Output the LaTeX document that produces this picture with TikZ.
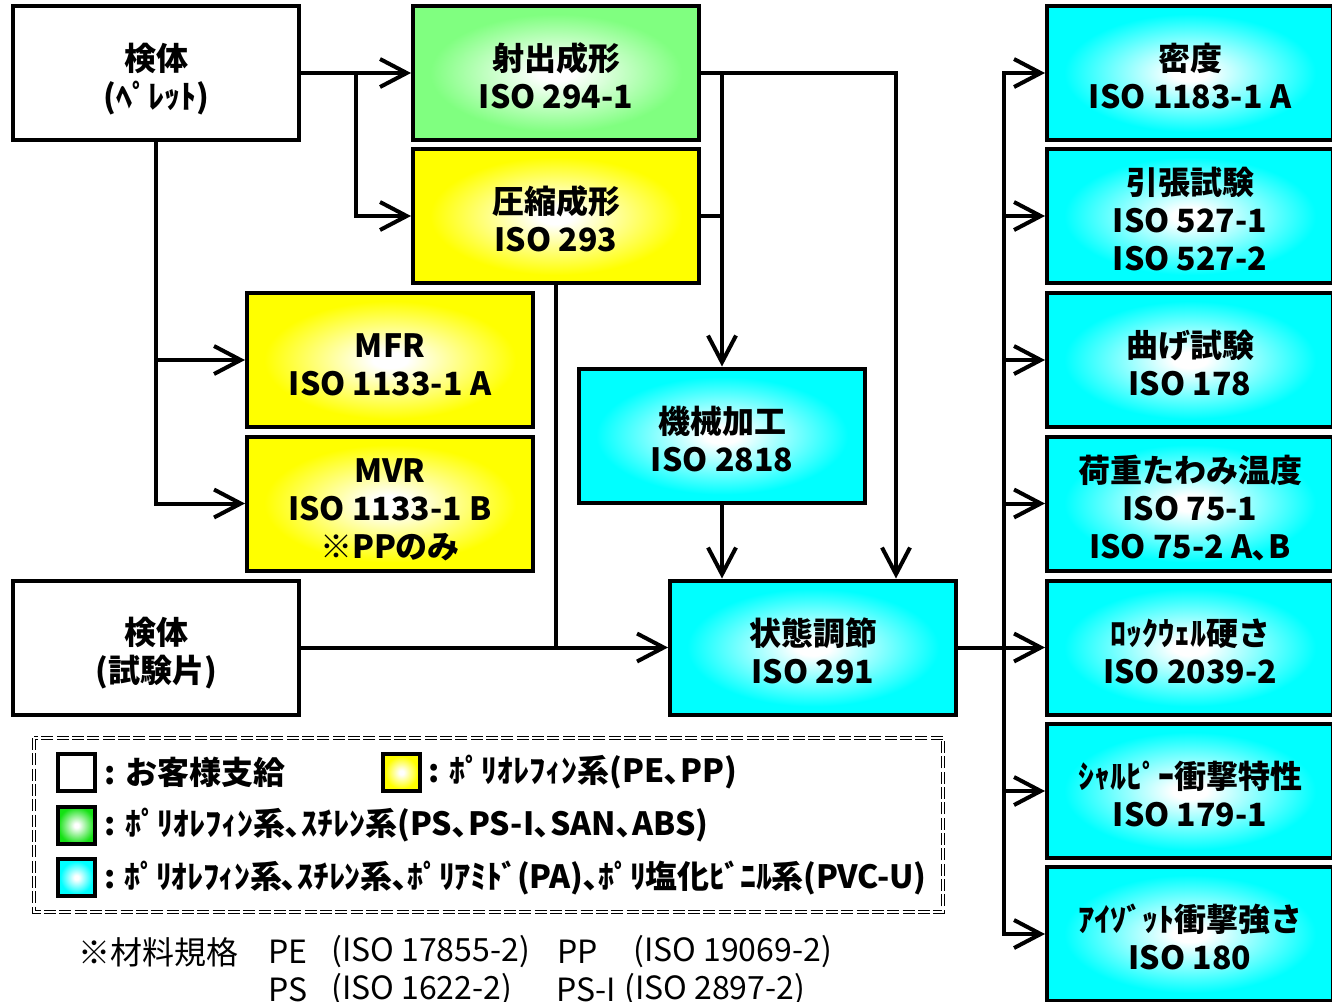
\documentclass[tikz,border=0pt]{standalone}
\usepackage{fontspec}
\newfontfamily\jp{Noto Sans CJK JP}
\usetikzlibrary{arrows.meta,calc}
\definecolor{gr}{RGB}{128,255,128}
\definecolor{lgr}{RGB}{20,225,20}
\definecolor{ye}{RGB}{255,255,0}
\definecolor{cy}{RGB}{0,255,255}
\pgfdeclareradialshading{glowG}{\pgfpoint{0bp}{0bp}}{color(0bp)=(white); color(3bp)=(white); color(22bp)=(gr); color(50bp)=(gr)}
\pgfdeclareradialshading{glowY}{\pgfpoint{0bp}{0bp}}{color(0bp)=(white); color(3bp)=(white); color(22bp)=(ye); color(50bp)=(ye)}
\pgfdeclareradialshading{glowC}{\pgfpoint{0bp}{0bp}}{color(0bp)=(white); color(3bp)=(white); color(22bp)=(cy); color(50bp)=(cy)}
\pgfdeclareradialshading{glowL}{\pgfpoint{0bp}{0bp}}{color(0bp)=(white); color(3bp)=(white); color(25bp)=(lgr); color(50bp)=(lgr)}
\newcommand\boxfont{\jp\bfseries\fontsize{24}{28.5}\selectfont}
\newcommand\footfont{\jp\fontsize{24}{28.5}\selectfont}
\newcommand\Tst{\rule{0pt}{29pt}}
\tikzset{
  box/.style={draw, line width=3pt, minimum width=214.5pt, minimum height=100.5pt, inner sep=0pt, align=center, font=\boxfont,
    execute at end node={\rule[-4pt]{0pt}{4pt}}},
  wbox/.style={box, fill=white},
  gbox/.style={box, shade, shading=glowG},
  ybox/.style={box, shade, shading=glowY},
  cbox/.style={box, shade, shading=glowC},
  lsq/.style={draw, line width=3pt, minimum size=27.75pt, inner sep=0pt},
  ltext/.style={anchor=west, inner sep=0pt, font=\boxfont},
  ftext/.style={anchor=west, inner sep=0pt, font=\footfont},
  conn/.style={line width=3pt, line cap=rect},
  arr/.style={line width=3pt, -{Straight Barb[length=20pt,width=21pt]}}
}
\begin{document}
\begin{tikzpicture}[x=0.75pt, y=-0.75pt]
\useasboundingbox (0,0) rectangle (1332,1001);
% left column
\node[wbox] (pel) at (156,73) {\Tst 検体\\(ﾍﾟﾚｯﾄ)};
\node[gbox] (inj) at (556,73) {\Tst 射出成形\\ISO 294-1};
\node[ybox] (comp) at (556,216) {\Tst 圧縮成形\\ISO 293};
\node[ybox] (mfr) at (390,360) {\Tst MFR\\ISO 1133-1 A};
\node[ybox] (mvr) at (390,503.5) {\Tst MVR\\ISO 1133-1 B\\※PPのみ};
\node[cbox] (mach) at (722,435.5) {\Tst 機械加工\\ISO 2818};
\node[wbox] (spec) at (156,647.5) {\Tst 検体\\(試験片)};
\node[cbox] (cond) at (813,647.5) {\Tst 状態調節\\ISO 291};
% right column
\node[cbox] (r1) at (1190,73) {\Tst 密度\\ISO 1183-1 A};
\node[cbox] (r2) at (1190,216) {\Tst 引張試験\\ISO 527-1\\ISO 527-2};
\node[cbox] (r3) at (1190,360) {\Tst 曲げ試験\\ISO 178};
\node[cbox] (r4) at (1190,503.5) {\Tst 荷重たわみ温度\\ISO 75-1\\ISO 75-2 A､B};
\node[cbox] (r5) at (1190,647.5) {\Tst ﾛｯｸｳｪﾙ硬さ\\ISO 2039-2};
\node[cbox] (r6) at (1190,791) {\Tst ｼｬﾙﾋﾟｰ衝撃特性\\ISO 179-1};
\node[cbox] (r7) at (1190,934) {\Tst ｱｲｿﾞｯﾄ衝撃強さ\\ISO 180};
% connectors
\draw[arr] (pel.east) -- (inj.west);
\draw[arr] ($(pel.east)!0.5!(inj.west)$) |- (comp.west);
\draw[arr] (pel.south) |- (mvr.west);
\draw[arr] (pel.south |- mfr.west) -- (mfr.west);
\draw[arr] (inj.east) -| ([xshift=62.25pt]cond.north);
\draw[arr] (inj.east -| mach.north) -- (mach.north);
\draw[conn] (comp.east) -- (comp.east -| mach.north);
\draw[arr] (mach.south) -- (mach.south |- cond.north);
\draw[conn] (comp.south) -- (comp.south |- spec.east);
\draw[arr] (spec.east) -- (cond.west);
\draw[conn] (cond.east) -- ++(46,0) coordinate (bus);
\draw[conn] (bus |- r1.west) -- (bus |- r7.west);
\foreach \i in {1,...,7} \draw[arr] (bus |- r\i.west) -- (r\i.west);
% legend
\draw[line width=0.7pt, double, double distance=1.6pt, dash pattern=on 9pt off 2.5pt] (34,738) rectangle (943,912);
\node[lsq, fill=white] (lw) at (76.5,772.5) {};
\node[lsq, shade, shading=glowY] (ly) at (401.5,772.5) {};
\node[lsq, shade, shading=glowL] (lg) at (76.5,825.5) {};
\node[lsq, shade, shading=glowC] (lc) at (76.5,877.5) {};
\node[ltext] (tw) at (104,772) {: お客様支給};
\node[ltext] (ty) at (428,772) {: ﾎﾟﾘｵﾚﾌｨﾝ系(PE､PP)};
\node[ltext] (tg) at (104,825) {: ﾎﾟﾘｵﾚﾌｨﾝ系､ｽﾁﾚﾝ系(PS､PS-I､SAN､ABS)};
\node[ltext] (tc) at (104,878) {\addfontfeature{LetterSpace=-1}: ﾎﾟﾘｵﾚﾌｨﾝ系､ｽﾁﾚﾝ系､ﾎﾟﾘｱﾐﾄﾞ(PA)､ﾎﾟﾘ塩化ﾋﾞﾆﾙ系(PVC-U)};
% footnote
\node[ftext] (f0) at (78,952) {※材料規格};
\node[ftext] (f1) at (268,952) {PE};
\node[ftext] (f2) at (331,952) {(ISO 17855-2)};
\node[ftext] (f3) at (557,952) {PP};
\node[ftext] (f4) at (633,952) {(ISO 19069-2)};
\node[ftext] (f5) at (268,990) {PS};
\node[ftext] (f6) at (331,990) {(ISO 1622-2)};
\node[ftext] (f7) at (556,990) {PS-I};
\node[ftext] (f8) at (624,990) {(ISO 2897-2)};
\end{tikzpicture}
\end{document}
